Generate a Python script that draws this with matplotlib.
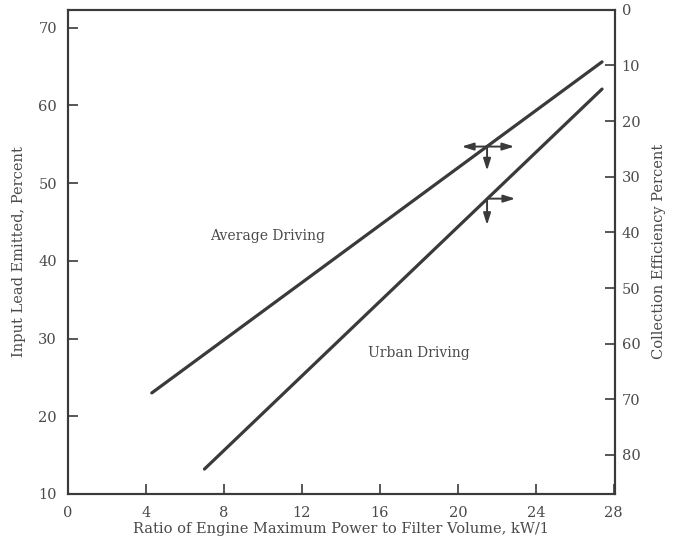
import matplotlib
matplotlib.use("Agg")
import matplotlib.pyplot as plt

# chart data
avg_x = [4.3, 27.4]
avg_y = [23.0, 65.6]
urban_x = [7.0, 27.4]
urban_y = [13.2, 62.1]

x_ticks = [0, 4, 8, 12, 16, 20, 24, 28]
left_ticks = [10, 20, 30, 40, 50, 60, 70]
right_ticks = [0, 10, 20, 30, 40, 50, 60, 70, 80]

# direction markers on the curves: origin point and arrow tips
avg_marker = (21.5, 54.7)
avg_tips = [(20.2, 54.7), (22.9, 54.7), (21.5, 51.6)]
urban_marker = (21.5, 48.0)
urban_tips = [(22.95, 48.0), (21.5, 44.6)]

INK = "#3a3a3a"
TXT = "#4a4a4a"

plt.rcParams["font.family"] = ["DejaVu Serif"]
plt.rcParams["font.size"] = 10

fig = plt.figure(figsize=(6.8, 5.44), dpi=100)
ax = fig.add_axes([0.1, 0.092, 0.804, 0.89])

ax.plot(avg_x, avg_y, color=INK, linewidth=2.3, solid_capstyle="round")
ax.plot(urban_x, urban_y, color=INK, linewidth=2.3, solid_capstyle="round")

ax.set_xlim(0, 28.05)
ax.set_ylim(10, 72.3)
ax.set_xticks(x_ticks)
ax.set_yticks(left_ticks)
ax.tick_params(direction="in", length=7, width=1.2, color=INK, labelcolor=TXT,
               labelsize=10.5, pad=8)
ax.tick_params(axis="x", pad=9)
for s in ax.spines.values():
    s.set_color(INK)
    s.set_linewidth(1.5)

ax.set_xlabel("Ratio of Engine Maximum Power to Filter Volume, kW/1",
              color=TXT, fontsize=10.5, labelpad=1)
ax.set_ylabel("Input Lead Emitted, Percent", color=TXT, fontsize=10.5, labelpad=9)

ax2 = ax.twinx()
ax2.set_ylim(87, 0)
ax2.set_yticks(right_ticks)
ax2.tick_params(direction="in", length=7, width=1.2, color=INK, labelcolor=TXT,
                labelsize=10.5, pad=5)
ax2.set_ylabel("Collection Efficiency Percent", color=TXT, fontsize=10.5,
               rotation=90, labelpad=8)
for s in ax2.spines.values():
    s.set_color(INK)
    s.set_linewidth(1.5)

ax.text(7.3, 43.2, "Average Driving", color=TXT, fontsize=10, va="center")
ax.text(15.4, 28.1, "Urban Driving", color=TXT, fontsize=10, va="center")

arrow_kw = dict(arrowstyle="-|>,head_length=0.7,head_width=0.22", color=INK, lw=1.4,
                shrinkA=0, shrinkB=0)
for origin, tips in [(avg_marker, avg_tips), (urban_marker, urban_tips)]:
    for tip in tips:
        ax.annotate("", xy=tip, xytext=origin, arrowprops=arrow_kw)

fig.savefig("out.png", dpi=100)
